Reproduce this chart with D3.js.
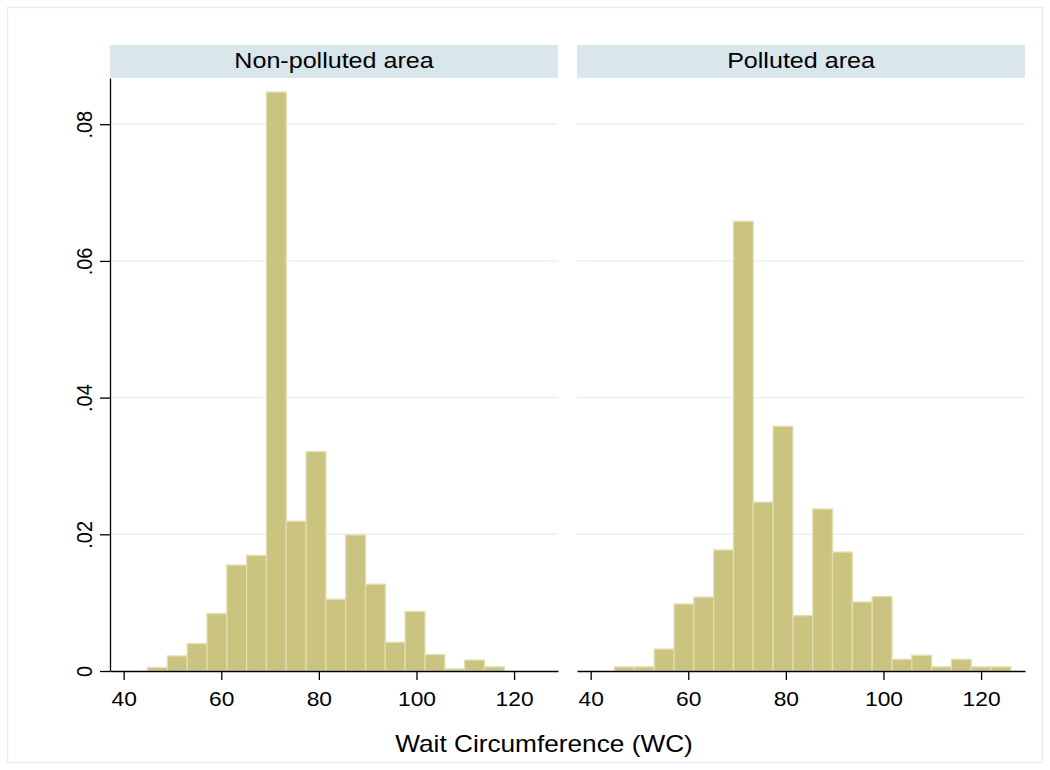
<!DOCTYPE html>
<html>
<head>
<meta charset="utf-8">
<script src="https://cdn.jsdelivr.net/npm/d3@7"></script>
<style>
  html, body { margin: 0; padding: 0; background: #ffffff; }
  text { font-family: "Liberation Sans", Arial, sans-serif; fill: #000; }
</style>
</head>
<body>
<svg id="chart" width="1050" height="770"></svg>
<script>
// ---- data (density per bin) ----
const panelTitles = ["Non-polluted area", "Polluted area"];
const binStart = 44.9;
const binWidth = 4.06;
const nonPolluted = [0.0005, 0.0022, 0.0040, 0.0084, 0.0155, 0.0169, 0.0847, 0.0219, 0.0321,
                     0.0105, 0.0199, 0.0127, 0.0042, 0.0087, 0.0024, 0.0003, 0.0016, 0.0006];
const polluted = [0.0006, 0.0006, 0.0032, 0.0098, 0.0108, 0.0177, 0.0658, 0.0247, 0.0358, 0.0081,
                  0.0237, 0.0174, 0.0101, 0.0109, 0.0017, 0.0023, 0.0006, 0.0017, 0.0006, 0.0006];
const xTicks = [40, 60, 80, 100, 120];
const yTicks = [0, 0.02, 0.04, 0.06, 0.08];
const yTickLabels = ["0", ".02", ".04", ".06", ".08"];
const xTitle = "Wait Circumference (WC)";

const series = [nonPolluted, polluted];
const svg = d3.select("#chart");
const SX = 1.14; // horizontal text stretch

// outer frame
svg.append("rect").attr("x", 7.5).attr("y", 7.5).attr("width", 1035).attr("height", 755)
  .attr("fill", "#fff").attr("stroke", "#e6eef1").attr("stroke-width", 1.5);

const panels = [{x0: 110, x1: 558}, {x0: 577, x1: 1025}];
const plotTop = 78, plotBottom = 671;
const y = d3.scaleLinear().domain([0, 0.08676]).range([plotBottom, plotTop]);

panels.forEach((p, pi) => {
  const x = d3.scaleLinear().domain([37.2, 129.0]).range([p.x0, p.x1]);
  const g = svg.append("g");

  // strip
  g.append("rect").attr("x", p.x0).attr("y", 45).attr("width", p.x1 - p.x0).attr("height", 33)
    .attr("fill", "#d9e6eb");
  g.append("text").attr("transform", `translate(${(p.x0 + p.x1) / 2},68) scale(${SX},1)`)
    .attr("text-anchor", "middle").style("font-size", "22px").text(panelTitles[pi]);

  // grid
  g.selectAll(".grid").data(yTicks.filter(d => d > 0)).enter().append("line")
    .attr("x1", p.x0).attr("x2", p.x1).attr("y1", d => y(d)).attr("y2", d => y(d))
    .attr("stroke", "#eaf0f3").attr("stroke-width", 1.5);

  // bars
  const vals = series[pi];
  g.selectAll(".bar").data(vals).enter().append("rect")
    .attr("x", (d, i) => x(binStart + i * binWidth))
    .attr("width", (d, i) => x(binStart + (i + 1) * binWidth) - x(binStart + i * binWidth))
    .attr("y", d => y(d))
    .attr("height", d => y(0) - y(d))
    .attr("fill", "#cbc480").attr("stroke", "#e2deae").attr("stroke-width", 1.3);

  // x axis
  const xa = g.append("g").attr("transform", `translate(0,${plotBottom})`)
    .call(d3.axisBottom(x).tickValues(xTicks).tickSize(9).tickSizeOuter(0));
  xa.select(".domain").attr("stroke", "#000").attr("stroke-width", 1.3);
  xa.selectAll(".tick line").attr("stroke", "#000").attr("stroke-width", 1.3);
  xa.selectAll(".tick text").attr("y", 35).attr("dy", 0)
    .attr("transform", `scale(${SX},1)`)
    .style("font-size", "20px").style("font-family", "Liberation Sans, Arial, sans-serif").attr("fill", "#000");

  // y axis (left panel only)
  if (pi === 0) {
    const ya = g.append("g").attr("transform", `translate(${p.x0},0)`)
      .call(d3.axisLeft(y).tickValues(yTicks).tickSize(10).tickSizeOuter(0).tickFormat((d, i) => yTickLabels[i]));
    ya.select(".domain").attr("stroke", "#000").attr("stroke-width", 1.3);
    ya.selectAll(".tick line").attr("stroke", "#000").attr("stroke-width", 1.3);
    ya.selectAll(".tick text").attr("x", 0).attr("y", 0).attr("dy", 0)
      .attr("text-anchor", "middle")
      .attr("transform", `translate(-18,0) scale(${SX},1) rotate(-90)`)
      .style("font-size", "20px").style("font-family", "Liberation Sans, Arial, sans-serif").attr("fill", "#000");
  }
});

// x title
svg.append("text").attr("transform", `translate(544,752) scale(${SX},1)`)
  .attr("text-anchor", "middle").style("font-size", "23px").text(xTitle);
</script>
</body>
</html>
